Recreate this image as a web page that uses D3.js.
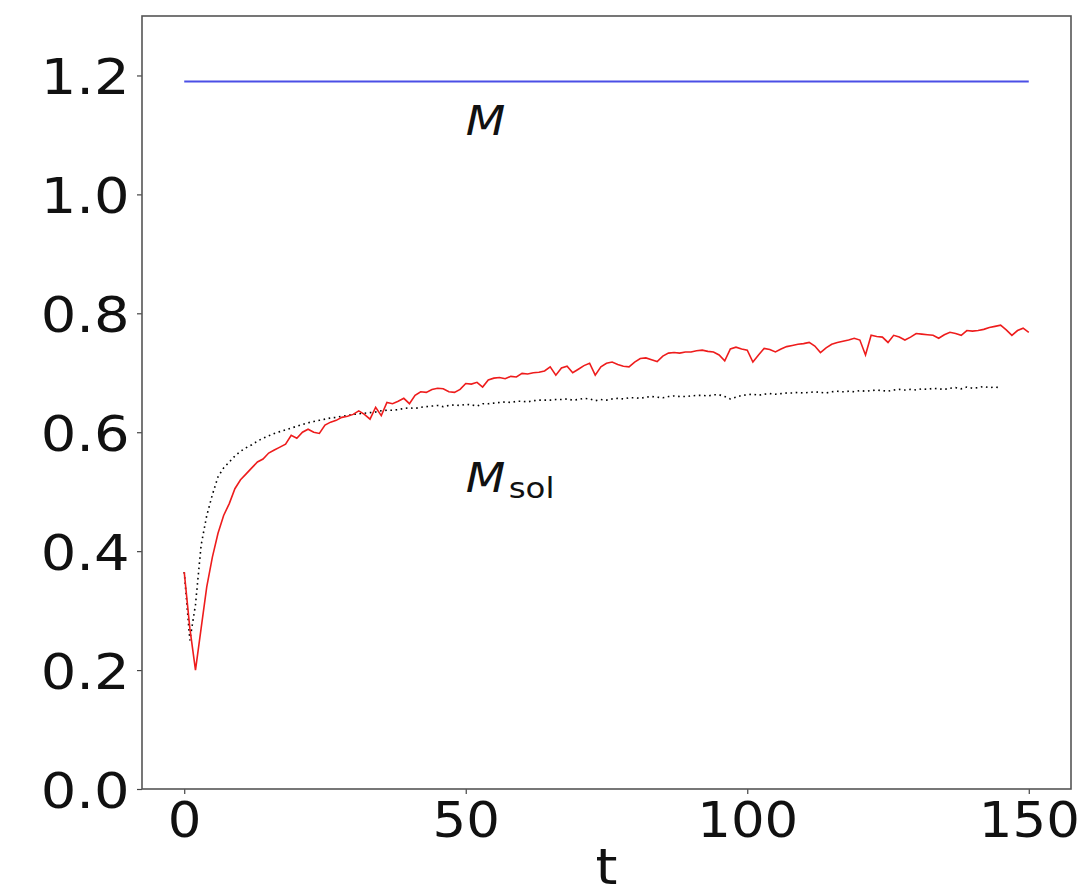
<!DOCTYPE html>
<html lang="en">
	<head>
		<meta charset="utf-8">
		<title>M and M_sol vs t</title>
		<script type="text/javascript" src="https://d3js.org/d3.v7.min.js"></script>
		<style type="text/css">
			body { margin: 0; background: #fff; }
			text { font-family: "DejaVu Sans", sans-serif; fill: #111; }
		</style>
	</head>
	<body>
		<script type="text/javascript">

			//Data: one value per unit of t, starting at t = 0
			var mTotal = 1.19;
			var mTotalT = [0, 150];

			var mRed = [
				0.365, 0.27, 0.20, 0.27, 0.34, 0.39, 0.43, 0.46, 0.48, 0.505,
				0.52, 0.53, 0.54, 0.55, 0.555, 0.565, 0.57, 0.575, 0.58, 0.595,
				0.59, 0.60, 0.605, 0.60, 0.598, 0.612, 0.617, 0.62, 0.625, 0.627,
				0.63, 0.636, 0.63, 0.622, 0.642, 0.628, 0.65, 0.648, 0.652, 0.657,
				0.648, 0.662, 0.668, 0.667, 0.672, 0.674, 0.673, 0.668, 0.667, 0.672,
				0.682, 0.681, 0.684, 0.676, 0.688, 0.691, 0.692, 0.69, 0.694, 0.693,
				0.699, 0.698, 0.70, 0.701, 0.703, 0.71, 0.696, 0.708, 0.711, 0.70,
				0.706, 0.712, 0.716, 0.696, 0.71, 0.716, 0.718, 0.714, 0.711, 0.71,
				0.718, 0.724, 0.725, 0.722, 0.719, 0.728, 0.733, 0.734, 0.733, 0.735,
				0.735, 0.737, 0.738, 0.736, 0.735, 0.73, 0.72, 0.74, 0.743, 0.74,
				0.738, 0.718, 0.73, 0.741, 0.739, 0.735, 0.74, 0.744, 0.746, 0.748,
				0.749, 0.751, 0.745, 0.734, 0.742, 0.748, 0.751, 0.753, 0.755, 0.758,
				0.755, 0.73, 0.763, 0.761, 0.76, 0.751, 0.763, 0.76, 0.755, 0.76,
				0.766, 0.765, 0.764, 0.763, 0.758, 0.764, 0.768, 0.766, 0.763, 0.771,
				0.77, 0.771, 0.773, 0.776, 0.778, 0.78, 0.772, 0.763, 0.771, 0.775,
				0.768
			];

			var mSol = [
				0.365, 0.25, 0.31, 0.41, 0.46, 0.495, 0.525, 0.54, 0.55, 0.56,
				0.568, 0.574, 0.579, 0.585, 0.59, 0.594, 0.598, 0.601, 0.604, 0.607,
				0.61, 0.613, 0.616, 0.618, 0.62, 0.622, 0.624, 0.625, 0.627, 0.628,
				0.63, 0.631, 0.632, 0.633, 0.634, 0.636, 0.637, 0.637, 0.638, 0.64,
				0.641, 0.64, 0.642, 0.643, 0.644, 0.645, 0.643, 0.645, 0.646, 0.645,
				0.647, 0.646, 0.644, 0.648, 0.648, 0.649, 0.65, 0.651, 0.65, 0.652,
				0.652, 0.651, 0.653, 0.654, 0.654, 0.654, 0.655, 0.655, 0.656, 0.654,
				0.655, 0.657, 0.656, 0.653, 0.655, 0.654, 0.656, 0.657, 0.656, 0.658,
				0.658, 0.657, 0.659, 0.66, 0.659, 0.658, 0.66, 0.661, 0.66, 0.66,
				0.661, 0.662, 0.662, 0.661, 0.663, 0.663, 0.66, 0.656, 0.659, 0.662,
				0.663, 0.664, 0.662, 0.664, 0.665, 0.664, 0.665, 0.666, 0.666, 0.667,
				0.666, 0.667, 0.668, 0.667, 0.666, 0.668, 0.669, 0.668, 0.669, 0.668,
				0.67, 0.669, 0.67, 0.671, 0.67, 0.669, 0.671, 0.672, 0.671, 0.672,
				0.671, 0.673, 0.672, 0.674, 0.673, 0.672, 0.674, 0.675, 0.673, 0.676,
				0.674, 0.675, 0.677, 0.675, 0.676, 0.675
			];

			var xTicks = [0, 50, 100, 150];
			var yTicks = [0.0, 0.2, 0.4, 0.6, 0.8, 1.0, 1.2];

			//Width and height
			var w = 1081;
			var h = 896;
			var margin = { top: 16, right: 10, bottom: 107, left: 142 };
			var stretch = "scale(1.12,1)"; // the source picture is a bit wider than tall
			var stretchX = "scale(1.06,1)"; // less for the x ticks, "150" sits at the edge

			var xScale = d3.scaleLinear()
						   .domain([-7.5, 157.5])
						   .range([margin.left, w - margin.right]);

			var yScale = d3.scaleLinear()
						   .domain([0, 1.3])
						   .range([h - margin.bottom, margin.top]);

			var svg = d3.select("body")
						.append("svg")
						.attr("width", w)
						.attr("height", h);

			var line = d3.line()
						 .x(function (d, i) { return xScale(i); })
						 .y(function (d) { return yScale(d); });

			//Blue horizontal M line
			svg.append("line")
			   .attr("x1", xScale(mTotalT[0]))
			   .attr("x2", xScale(mTotalT[1]))
			   .attr("y1", yScale(mTotal))
			   .attr("y2", yScale(mTotal))
			   .attr("stroke", "#4b4fe6")
			   .attr("stroke-width", 2);

			//Black dotted M_sol line
			svg.append("path")
			   .datum(mSol)
			   .attr("d", line)
			   .attr("fill", "none")
			   .attr("stroke", "#000")
			   .attr("stroke-width", 1.6)
			   .attr("stroke-dasharray", "1.6,3.6");

			//Red line
			svg.append("path")
			   .datum(mRed)
			   .attr("d", line)
			   .attr("fill", "none")
			   .attr("stroke", "#ee1c1c")
			   .attr("stroke-width", 1.6);

			//Axes
			var xAxis = d3.axisBottom(xScale)
						  .tickValues(xTicks)
						  .tickSize(5)
						  .tickPadding(8)
						  .tickFormat(d3.format("d"));

			var yAxis = d3.axisLeft(yScale)
						  .tickValues(yTicks)
						  .tickSize(5)
						  .tickPadding(6)
						  .tickFormat(d3.format(".1f"));

			var gx = svg.append("g")
			   .attr("transform", "translate(0," + (h - margin.bottom) + ")")
			   .call(xAxis);

			var gy = svg.append("g")
			   .attr("transform", "translate(" + margin.left + ",0)")
			   .call(yAxis);

			[gx, gy].forEach(function (g) {
				g.select(".domain").remove();
				g.selectAll(".tick line").attr("stroke", "#444").attr("stroke-width", 1.2);
				g.selectAll(".tick text")
				 .style("font-family", "DejaVu Sans")
				 .style("font-size", "50px")
				 .attr("fill", "#111")
				 .attr("transform", g === gx ? stretchX : stretch);
			});
			gy.selectAll(".tick text").attr("dy", "0.36em");

			//Frame
			svg.append("rect")
			   .attr("x", margin.left)
			   .attr("y", margin.top)
			   .attr("width", w - margin.left - margin.right)
			   .attr("height", h - margin.top - margin.bottom)
			   .attr("fill", "none")
			   .attr("stroke", "#555")
			   .attr("stroke-width", 1.6);

			//Axis label
			svg.append("text")
			   .attr("transform", "translate(" + ((xScale(-7.5) + xScale(157.5)) / 2) + ",884) " + stretch)
			   .attr("text-anchor", "middle")
			   .style("font-size", "50px")
			   .text("t");

			//Annotations
			svg.append("text")
			   .attr("transform", "translate(" + xScale(50) + "," + yScale(1.1) + ") " + stretch)
			   .style("font-size", "41px")
			   .style("font-style", "italic")
			   .text("M");

			var sol = svg.append("text")
			   .attr("transform", "translate(" + xScale(50) + "," + yScale(0.5) + ") " + stretch)
			   .style("font-size", "41px");
			sol.append("tspan")
			   .style("font-style", "italic")
			   .text("M");
			sol.append("tspan")
			   .attr("dy", 6)
			   .attr("dx", 3)
			   .style("font-size", "29px")
			   .text("sol");

		</script>
	</body>
</html>
